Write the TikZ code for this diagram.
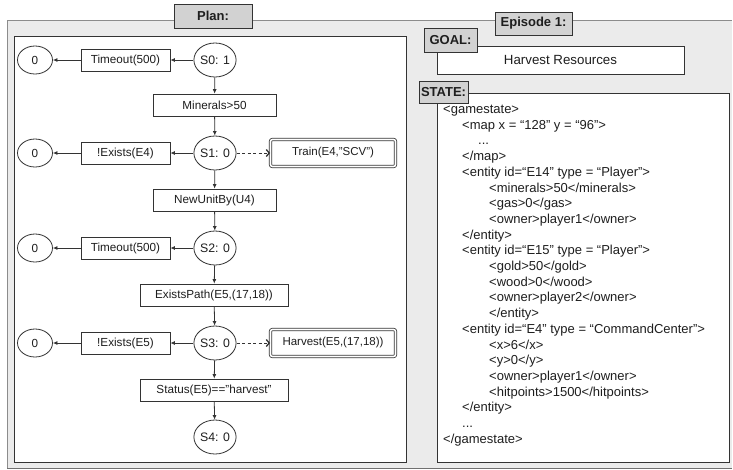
\documentclass[tikz,border=0pt]{standalone}
\usepackage{fontspec}
\setmainfont{Liberation Sans}
\usetikzlibrary{arrows.meta,shapes.geometric}
\definecolor{panelgray}{HTML}{EBEBEB}
\definecolor{labelgray}{HTML}{D2D2D2}
\definecolor{edgec}{HTML}{333333}
\definecolor{framec}{HTML}{8C8C8C}
\definecolor{txt}{HTML}{1E1E1E}
\begin{document}
\begin{tikzpicture}[x=1pt,y=-1pt,
  every node/.style={text=txt},
  pbox/.style={draw=edgec, line width=0.8pt, fill=white, minimum height=22pt, inner sep=0pt, font=\fontsize{11.7}{13}\selectfont},
  sstate/.style={ellipse, draw=edgec, line width=0.8pt, fill=white, minimum width=37pt, minimum height=34pt, inner sep=0pt, font=\fontsize{12.3}{14}\selectfont},
  zero/.style={ellipse, draw=edgec, line width=0.8pt, fill=white, minimum width=35pt, minimum height=28pt, inner sep=0pt, font=\fontsize{11.7}{13}\selectfont},
  actbox/.style={draw=edgec, line width=0.8pt, double=white, double distance=1.6pt, rounded corners=2pt, minimum width=125pt, minimum height=27pt, inner sep=0pt, font=\fontsize{11.5}{13}\selectfont},
  lab/.style={draw=edgec, line width=0.9pt, fill=labelgray, inner sep=0pt, font=\bfseries\fontsize{13}{15}\selectfont},
  wbox/.style={draw=edgec, line width=0.8pt, fill=white, inner sep=0pt},
  arr/.style={draw=edgec, line width=0.8pt, -{Latex[length=4.5pt,width=4pt]}},
  darr/.style={draw=edgec, line width=0.8pt, dashed, dash pattern=on 3pt off 2.5pt, -{Straight Barb[length=3pt,width=7pt,line width=1.3pt]}},
  xml/.style={anchor=base west, inner sep=0pt, font=\fontsize{13}{15}\selectfont}
]
\useasboundingbox (0,0) rectangle (733,469);
\fill[white] (0,0) rectangle (733,469);
% main gray panel
\fill[panelgray] (7,20) rectangle (732,468);
\draw[framec, line width=1pt] (7,468) -- (7,20) -- (732,20);
\draw[framec!80!black, line width=1pt] (7,468) -- (732,468);
% white boxes
\node[wbox, minimum width=392pt, minimum height=426pt] (planbox) at (210,249) {};
\node[wbox, minimum width=247pt, minimum height=28pt, font=\fontsize{13.3}{15}\selectfont] (goalbox) at (560.5,60) {Harvest Resources};
\node[wbox, minimum width=292pt, minimum height=369pt] (statebox) at (583,277.5) {};
% labels
\node[lab, minimum width=78pt, minimum height=24pt] (planlab) at (213,16) {Plan:};
\node[lab, minimum width=77pt, minimum height=23pt] (eplab) at (533.5,23.5) {Episode 1:};
\node[lab, minimum width=53pt, minimum height=24pt] (goallab) at (450.5,40) {GOAL:};
\node[lab, minimum width=49pt, minimum height=22pt] (statelab) at (443.5,92) {STATE:};
% plan nodes
\node[sstate] (s0) at (215,60) {S0: 1};
\node[sstate] (s1) at (215,153) {S1: 0};
\node[sstate] (s2) at (215,248) {S2: 0};
\node[sstate] (s3) at (215,343) {S3: 0};
\node[sstate] (s4) at (215,437) {S4: 0};
\node[pbox, minimum width=123pt] (c0) at (214.5,105) {Minerals>50};
\node[pbox, minimum width=123pt] (c1) at (214.5,200) {NewUnitBy(U4)};
\node[pbox, minimum width=148pt] (c2) at (214,295) {ExistsPath(E5,(17,18))};
\node[pbox, minimum width=148pt] (c3) at (214,390) {Status(E5)=="harvest"};
\node[pbox, minimum width=89pt] (f0) at (125.5,60) {Timeout(500)};
\node[pbox, minimum width=89pt] (f1) at (125.5,153) {!Exists(E4)};
\node[pbox, minimum width=89pt] (f2) at (125.5,248) {Timeout(500)};
\node[pbox, minimum width=89pt] (f3) at (125.5,343) {!Exists(E5)};
\node[zero] (z0) at (35,60) {0};
\node[zero] (z1) at (35,153) {0};
\node[zero] (z2) at (35,248) {0};
\node[zero] (z3) at (35,343) {0};
\node[actbox] (a1) at (333,153) {Train(E4,"SCV")};
\node[actbox] (a3) at (333,343) {Harvest(E5,(17,18))};
% connectors
\draw[arr] (s0) -- (f0);
\draw[arr] (f0) -- (z0);
\draw[arr] (s1) -- (f1);
\draw[arr] (f1) -- (z1);
\draw[arr] (s2) -- (f2);
\draw[arr] (f2) -- (z2);
\draw[arr] (s3) -- (f3);
\draw[arr] (f3) -- (z3);
\draw[arr] (s0) -- (c0);
\draw[arr] (c0) -- (s1);
\draw[arr] (s1) -- (c1);
\draw[arr] (c1) -- (s2);
\draw[arr] (s2) -- (c2);
\draw[arr] (c2) -- (s3);
\draw[arr] (s3) -- (c3);
\draw[arr] (c3) -- (s4);
\draw[darr] (s1) -- (a1);
\draw[darr] (s3) -- (a3);
% state text
\node[xml] (l1) at (443,113.5) {<gamestate>};
\node[xml] (l2) at (462,129.2) {<map x = “128” y = “96”>};
\node[xml] (l3) at (478,144.9) {...};
\node[xml] (l4) at (462,160.6) {</map>};
\node[xml] (l5) at (462,176.3) {<entity id=“E14” type = “Player”>};
\node[xml] (l6) at (489,192.0) {<minerals>50</minerals>};
\node[xml] (l7) at (489,207.7) {<gas>0</gas>};
\node[xml] (l8) at (489,223.4) {<owner>player1</owner>};
\node[xml] (l9) at (462,239.1) {</entity>};
\node[xml] (l10) at (462,254.8) {<entity id=“E15” type = “Player”>};
\node[xml] (l11) at (489,270.5) {<gold>50</gold>};
\node[xml] (l12) at (489,286.2) {<wood>0</wood>};
\node[xml] (l13) at (489,301.9) {<owner>player2</owner>};
\node[xml] (l14) at (489,317.6) {</entity>};
\node[xml] (l15) at (462,333.3) {<entity id=“E4” type = “CommandCenter”>};
\node[xml] (l16) at (489,349.0) {<x>6</x>};
\node[xml] (l17) at (489,364.7) {<y>0</y>};
\node[xml] (l18) at (489,380.4) {<owner>player1</owner>};
\node[xml] (l19) at (489,396.1) {<hitpoints>1500</hitpoints>};
\node[xml] (l20) at (462,411.8) {</entity>};
\node[xml] (l21) at (462,427.5) {...};
\node[xml] (l22) at (443,443.2) {</gamestate>};
\end{tikzpicture}
\end{document}
